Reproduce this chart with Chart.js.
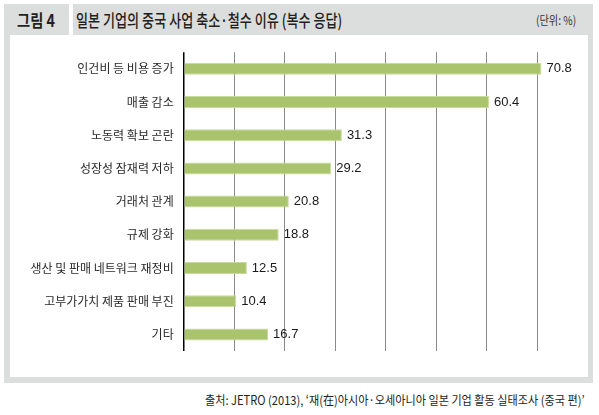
<!DOCTYPE html>
<html><head><meta charset="utf-8">
<script src="https://cdn.jsdelivr.net/npm/chart.js@4"></script>
<style>
html,body{margin:0;padding:0;background:#fff;width:599px;height:415px;overflow:hidden;font-family:"Noto Sans CJK KR","Noto Sans",sans-serif;}
#frame{position:absolute;left:4px;top:4px;width:589px;height:379px;background:#dcdddd;}
#panel{position:absolute;left:10px;top:35px;width:578px;height:342px;background:#fff;}
#gap{position:absolute;left:69px;top:4px;width:4px;height:31px;background:#fff;}
.t{position:absolute;white-space:nowrap;transform-origin:left center;color:#231f20;}
#fig{left:17px;top:8px;font-size:17px;font-weight:700;line-height:24px;transform:scaleX(0.84);}
#title{left:76px;top:8px;font-size:17px;font-weight:500;line-height:24px;transform:scaleX(0.77);}
#unit{left:536px;top:11px;font-size:12px;line-height:18px;transform:scaleX(0.85);color:#333;}
#src{left:205px;top:391px;font-size:12.5px;line-height:18px;transform:scaleX(0.89);color:#231f20;}
#c{position:absolute;left:10px;top:35px;}
</style></head>
<body>
<div id="frame"></div><div id="gap"></div><div id="panel"></div>
<div class="t" id="fig">그림 4</div>
<div class="t" id="title">일본 기업의 중국 사업 축소·철수 이유 (복수 응답)</div>
<div class="t" id="unit">(단위: %)</div>
<div class="t" id="src">출처: JETRO (2013), ‘재(在)아시아·오세아니아 일본 기업 활동 실태조사 (중국 편)’</div>
<canvas id="c" width="578" height="342" style="width:578px;height:342px"></canvas>
<script>
const categories = ["인건비 등 비용 증가","매출 감소","노동력 확보 곤란","성장성 잠재력 저하","거래처 관계","규제 강화","생산 및 판매 네트워크 재정비","고부가가치 제품 판매 부진","기타"];
const values = [70.8, 60.4, 31.3, 29.2, 20.8, 18.8, 12.5, 10.4, 16.7];
const valueLabels = ["70.8","60.4","31.3","29.2","20.8","18.8","12.5","10.4","16.7"];

const valuePlugin = {
  id:'valueLabels',
  afterDatasetsDraw(chart){
    const ctx = chart.ctx;
    const meta = chart.getDatasetMeta(0);
    ctx.save();
    ctx.font = '13px "Liberation Sans", Arial, sans-serif';
    ctx.fillStyle = '#1a1a1a';
    ctx.textAlign = 'left';
    ctx.textBaseline = 'middle';
    meta.data.forEach((bar,i)=>{
      ctx.fillText(valueLabels[i], bar.x + 5, bar.y);
    });
    ctx.restore();
  }
};

new Chart(document.getElementById('c'), {
  type:'bar',
  data:{labels:categories, datasets:[{data:values, backgroundColor:'#a9c46c', borderColor:'#c9da9f', borderWidth:1, borderSkipped:'left', categoryPercentage:1, barPercentage:0.36}]},
  options:{
    indexAxis:'y', responsive:false, animation:false, devicePixelRatio:1,
    layout:{padding:{top:17,bottom:26,left:0,right:0}},
    plugins:{legend:{display:false}, tooltip:{enabled:false}},
    scales:{
      x:{min:0,max:80,
        ticks:{display:false,stepSize:10},
        grid:{drawTicks:false, color:(c)=> (c.tick && c.tick.value===0) ? '#000' : (c.tick && c.tick.value<80 ? '#8a8a8a':'rgba(0,0,0,0)'), lineWidth:(c)=> (c.tick && c.tick.value===0)?1.5:1},
        border:{display:false},
        afterFit:(s)=>{s.height=0;}
      },
      y:{
        ticks:{padding:10, color:'#2a2a2a', font:{family:'"Noto Sans CJK KR"', size:12}},
        grid:{display:false, drawTicks:false},
        border:{display:false},
        afterFit:(s)=>{s.width=173.7;}
      }
    }
  },
  plugins:[valuePlugin]
});
</script>
</body></html>
